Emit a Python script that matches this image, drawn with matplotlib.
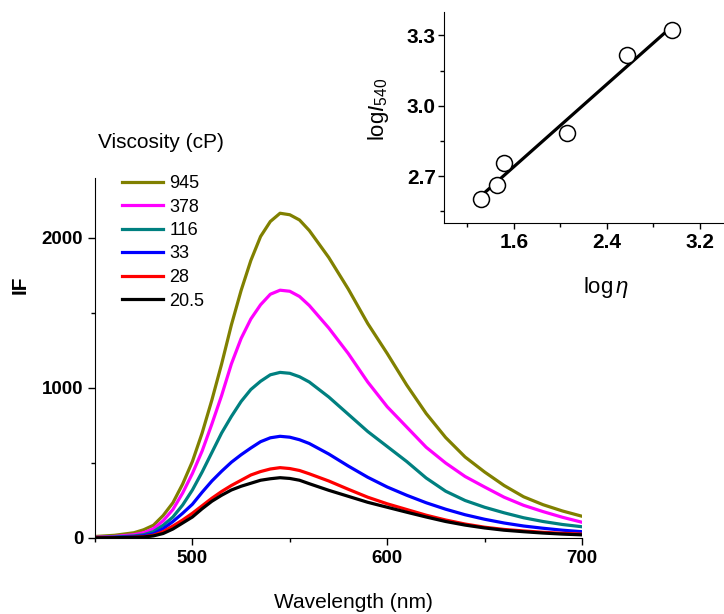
import numpy as np
import matplotlib
matplotlib.use("Agg")
import matplotlib.pyplot as plt
from matplotlib.ticker import MultipleLocator

plt.rcParams['font.family'] = ['Liberation Sans', 'DejaVu Sans']
plt.rcParams['mathtext.fontset'] = 'custom'
plt.rcParams['mathtext.rm'] = 'Liberation Sans'
plt.rcParams['mathtext.it'] = 'Liberation Sans:italic'

# emission spectra
wavelength = [450, 460, 470, 475, 480, 485, 490, 495, 500, 505, 510, 515, 520, 525,
              530, 535, 540, 545, 550, 555, 560, 570, 580, 590, 600, 610, 620, 630,
              640, 650, 660, 670, 680, 690, 700]
if_945 = [10, 18, 35, 55, 85, 150, 235, 360, 510, 700, 920, 1160, 1420, 1650,
          1850, 2010, 2110, 2165, 2155, 2120, 2050, 1870, 1660, 1430, 1230, 1020, 830, 670,
          540, 440, 350, 275, 222, 180, 145]
if_378 = [5, 10, 22, 35, 62, 115, 190, 300, 430, 580, 760, 950, 1160, 1330,
          1460, 1555, 1625, 1652, 1645, 1610, 1550, 1400, 1230, 1040, 875, 740, 605, 500,
          410, 340, 272, 218, 176, 138, 105]
if_116 = [3, 6, 14, 22, 42, 85, 140, 220, 320, 440, 570, 700, 810, 910,
          990, 1045, 1088, 1104, 1098, 1075, 1040, 940, 825, 710, 610, 510, 400, 312,
          250, 205, 168, 135, 110, 90, 75]
if_33 = [2, 4, 9, 15, 28, 62, 110, 165, 225, 305, 380, 445, 505, 555,
         600, 642, 668, 678, 672, 655, 630, 560, 480, 405, 340, 285, 235, 192,
         155, 125, 100, 80, 65, 52, 42]
if_28 = [1, 2, 5, 9, 18, 42, 80, 120, 165, 215, 265, 310, 350, 385,
         420, 443, 460, 469, 463, 450, 428, 380, 325, 272, 228, 190, 152, 120,
         93, 72, 57, 47, 38, 31, 26]
if_20 = [1, 2, 4, 7, 14, 30, 60, 100, 140, 195, 245, 285, 320, 345,
         365, 385, 395, 402, 397, 385, 362, 318, 278, 238, 205, 172, 140, 110,
         86, 67, 52, 42, 33, 26, 21]

viscosity_labels = ['945', '378', '116', '33', '28', '20.5']
colors = ['#808000', '#FF00FF', '#008080', '#0000FF', '#FF0000', '#000000']

# inset: log eta vs log I540
log_eta = [1.316, 1.454, 1.52, 2.056, 2.57, 2.965]
log_i540 = [2.603, 2.663, 2.754, 2.882, 3.215, 3.324]

W, H = 724, 614
fig = plt.figure(figsize=(W / 100, H / 100), dpi=100)
ax = fig.add_axes([95 / W, 1 - 538 / H, 487 / W, 360 / H])

series = [if_945, if_378, if_116, if_33, if_28, if_20]
for vals, lab, c in zip(series, viscosity_labels, colors):
    ax.plot(wavelength, vals, color=c, lw=2.3, label=lab)

ax.set_xlim(450, 700)
ax.set_ylim(0, 2400)
ax.xaxis.set_major_locator(MultipleLocator(100))
ax.xaxis.set_minor_locator(MultipleLocator(50))
ax.yaxis.set_major_locator(MultipleLocator(1000))
ax.yaxis.set_minor_locator(MultipleLocator(500))
for s in ['top', 'right']:
    ax.spines[s].set_visible(False)
ax.tick_params(which='major', direction='out', length=5, width=1, labelsize=13.5)
ax.tick_params(which='minor', direction='out', length=3, width=1)
for t in ax.get_xticklabels() + ax.get_yticklabels():
    t.set_fontweight('bold')

fig.text(353 / W, 1 - 603 / H, 'Wavelength (nm)', fontsize=15, ha='center', va='center')
fig.text(20 / W, 1 - 285 / H, 'IF', fontsize=15, fontweight='bold', rotation=90,
         ha='center', va='center')

fig.text(98 / W, 1 - 142 / H, 'Viscosity (cP)', fontsize=15, ha='left', va='center')
ax.legend(loc='upper left', bbox_to_anchor=(122 / W, 1 - 175 / H),
          bbox_transform=fig.transFigure, frameon=False, borderpad=0, borderaxespad=0,
          fontsize=13, handlelength=2.27, handletextpad=0.35, labelspacing=0.36)

# inset
ins = fig.add_axes([444 / W, 1 - 223 / H, 279 / W, 211 / H])
ins.plot(log_eta, log_i540, 'o', ms=11.5, mfc='white', mec='black', mew=1.1, zorder=3)
k, b = np.polyfit(log_eta, log_i540, 1)
xf = np.array([min(log_eta), max(log_eta)])
ins.plot(xf, k * xf + b, color='black', lw=2.3, zorder=2)
ins.set_xlim(1.0, 3.4)
ins.set_ylim(2.5, 3.4)
ins.set_xticks([1.6, 2.4, 3.2])
ins.set_xticks([1.2, 2.0, 2.8], minor=True)
ins.set_yticks([2.7, 3.0, 3.3])
ins.set_yticks([2.55, 2.85, 3.15], minor=True)
ins.set_yticklabels(['2.7', '3.0', '3.3'])
for s in ['top', 'right']:
    ins.spines[s].set_visible(False)
ins.tick_params(which='major', direction='out', length=4, width=1, labelsize=15)
ins.tick_params(axis='y', which='major', pad=2)
ins.tick_params(which='minor', direction='out', length=3, width=1)
for t in ins.get_xticklabels() + ins.get_yticklabels():
    t.set_fontweight('bold')
fig.text(606 / W, 1 - 287 / H, r'log$\,\eta$', fontsize=16, ha='center', va='center')
fig.text(378 / W, 1 - 109 / H, r'log$I_{540}$', fontsize=16, rotation=90,
         ha='center', va='center')

fig.savefig('out.png', dpi=100)
